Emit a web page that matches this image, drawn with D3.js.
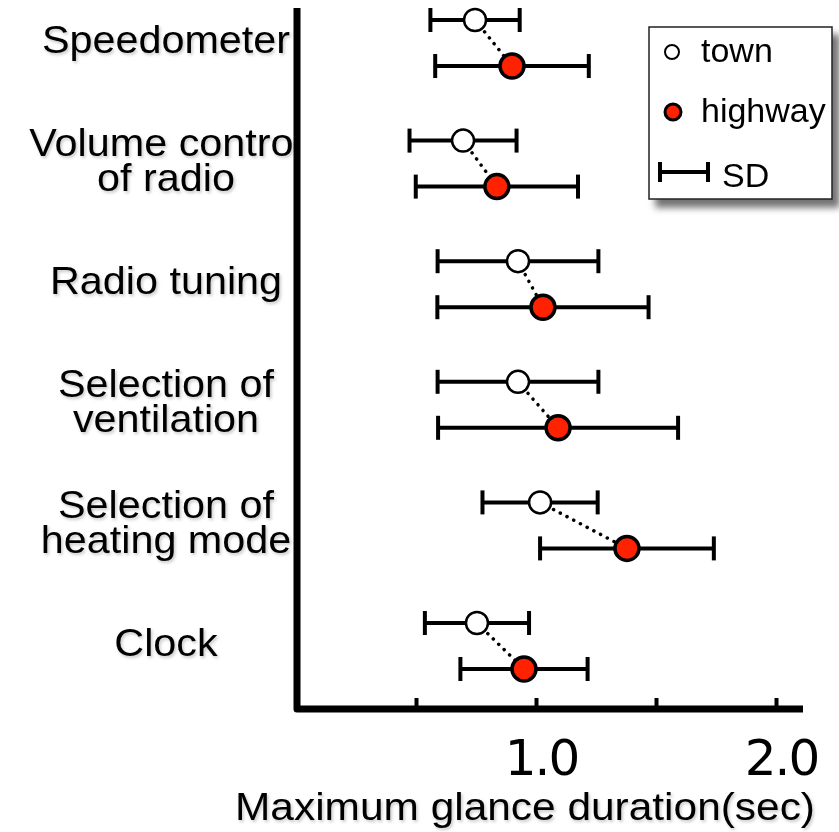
<!DOCTYPE html>
<html>
<head>
<meta charset="utf-8">
<script src="https://cdn.jsdelivr.net/npm/d3@7"></script>
<style>
  html, body { margin: 0; padding: 0; background: #fff; }
  svg { display: block; }
  text { font-family: "Liberation Sans", Arial, Helvetica, sans-serif; fill: #000; }
</style>
</head>
<body>
<svg id="chart" width="839" height="832"></svg>
<script>
"use strict";

// --- DATA ---
const categories = [
    ["Speedometer"],
    ["Volume control", "of radio"],
    ["Radio tuning"],
    ["Selection of", "ventilation"],
    ["Selection of", "heating mode"],
    ["Clock"]
];
const townMean    = [0.746, 0.696, 0.925, 0.925, 1.017, 0.754];
const townSD      = [0.186, 0.223, 0.335, 0.335, 0.240, 0.217];
const highwayMean = [0.900, 0.837, 1.029, 1.092, 1.379, 0.950];
const highwaySD   = [0.320, 0.338, 0.440, 0.500, 0.362, 0.265];
const tickValues  = [0.5, 1.0, 1.5, 2.0];
const legendItems = ["town", "highway", "SD"];

const RED = "#ff2200";
const L = { axisX: 297, axisTop: 8, axisY: 709, axisRight: 803, offset: 23, cap: 12 };

const svg = d3.select("#chart");
const defs = svg.append("defs");

// soft text shadow like the original
defs.append("filter").attr("id", "txtShadow").attr("x", "-10%").attr("y", "-30%").attr("width", "130%").attr("height", "160%")
    .append("feDropShadow").attr("dx", 1.5).attr("dy", 2).attr("stdDeviation", 1.5)
    .attr("flood-color", "#000").attr("flood-opacity", 0.22);
defs.append("filter").attr("id", "boxShadow").attr("x", "-20%").attr("y", "-20%").attr("width", "150%").attr("height", "150%")
    .append("feDropShadow").attr("dx", 7).attr("dy", 8).attr("stdDeviation", 3.5)
    .attr("flood-color", "#000").attr("flood-opacity", 0.55);
defs.append("clipPath").attr("id", "labelClip")
    .append("rect").attr("x", 0).attr("y", 0).attr("width", 294).attr("height", 832);

// --- SCALES ---
const x = d3.scaleLinear().domain([0, 2]).range([296, 776]);
const y = d3.scalePoint().domain(d3.range(categories.length)).range([43, 646]);

const rows = categories.map((c, i) => ({
    i, lines: c,
    town: { m: townMean[i], sd: townSD[i] },
    highway: { m: highwayMean[i], sd: highwaySD[i] }
}));

// --- CATEGORY LABELS ---
const lineH = 35;
const labels = svg.append("g").attr("clip-path", "url(#labelClip)")
    .append("g").attr("filter", "url(#txtShadow)");
rows.forEach(r => {
    const first = y(r.i) - (r.lines.length - 1) * lineH / 2 + 10;
    const t = labels.append("text")
        .attr("transform", `translate(166,${first}) scale(1.06,1)`)
        .attr("text-anchor", "middle")
        .style("font-size", "39px");
    r.lines.forEach((ln, k) => {
        t.append("tspan").attr("x", 0).attr("y", k * lineH).text(ln);
    });
});

// --- AXES ---
const xAxis = d3.axisBottom(x)
    .tickValues(tickValues)
    .tickSizeInner(-11).tickSizeOuter(0).tickPadding(30)
    .tickFormat(d => Number.isInteger(d) ? d.toFixed(1) : "");
const ax = svg.append("g").attr("transform", `translate(0,${L.axisY})`).call(xAxis);
ax.select(".domain").remove();
ax.selectAll(".tick line").attr("stroke", "#000").attr("stroke-width", 4);
ax.selectAll(".tick text")
    .attr("dx", 5)
    .style("font-family", "'DejaVu Sans', Verdana, sans-serif")
    .style("font-size", "50px").style("letter-spacing", "-2px")
    .attr("fill", "#000");

svg.append("path")
    .attr("d", `M${L.axisX},${L.axisTop}V${L.axisY}H${L.axisRight}`)
    .attr("fill", "none").attr("stroke", "#000").attr("stroke-width", 7)
    .attr("stroke-linejoin", "round");

svg.append("text")
    .attr("x", 525).attr("y", 820).attr("text-anchor", "middle")
    .attr("textLength", 580).attr("lengthAdjust", "spacingAndGlyphs")
    .attr("filter", "url(#txtShadow)")
    .style("font-size", "38px")
    .text("Maximum glance duration(sec)");

// --- MARKS ---
const plot = svg.append("g");

// dotted connectors
plot.selectAll(".conn").data(rows).enter().append("line")
    .attr("x1", d => x(d.town.m)).attr("y1", d => y(d.i) - L.offset)
    .attr("x2", d => x(d.highway.m)).attr("y2", d => y(d.i) + L.offset)
    .attr("stroke", "#000").attr("stroke-width", 3.5)
    .attr("stroke-linecap", "round").attr("stroke-dasharray", "0.1 7.5");

const series = [
    { key: "town", dy: -L.offset, fill: "#fff", r: 11, sw: 2.5 },
    { key: "highway", dy: L.offset, fill: RED, r: 12, sw: 3.5 }
];

series.forEach(s => {
    const eb = plot.selectAll(`.eb-${s.key}`).data(rows).enter().append("g")
        .attr("transform", d => `translate(0,${y(d.i) + s.dy})`);
    eb.append("line")
        .attr("x1", d => x(d[s.key].m - d[s.key].sd)).attr("x2", d => x(d[s.key].m + d[s.key].sd))
        .attr("stroke", "#000").attr("stroke-width", 4);
    eb.append("line")
        .attr("x1", d => x(d[s.key].m - d[s.key].sd)).attr("x2", d => x(d[s.key].m - d[s.key].sd))
        .attr("y1", -L.cap).attr("y2", L.cap)
        .attr("stroke", "#000").attr("stroke-width", 4);
    eb.append("line")
        .attr("x1", d => x(d[s.key].m + d[s.key].sd)).attr("x2", d => x(d[s.key].m + d[s.key].sd))
        .attr("y1", -L.cap).attr("y2", L.cap)
        .attr("stroke", "#000").attr("stroke-width", 4);
});

series.forEach(s => {
    plot.selectAll(`.pt-${s.key}`).data(rows).enter().append("circle")
        .attr("cx", d => x(d[s.key].m)).attr("cy", d => y(d.i) + s.dy)
        .attr("r", s.r).attr("fill", s.fill)
        .attr("stroke", "#000").attr("stroke-width", s.sw);
});

// --- LEGEND ---
const lg = svg.append("g").attr("transform", "translate(649,27)");
lg.append("rect").attr("width", 183).attr("height", 172)
    .attr("fill", "#fff").attr("stroke", "#222").attr("stroke-width", 1.5)
    .attr("filter", "url(#boxShadow)");

lg.append("circle").attr("cx", 23).attr("cy", 25).attr("r", 7)
    .attr("fill", "#fff").attr("stroke", "#000").attr("stroke-width", 2);
lg.append("circle").attr("cx", 24).attr("cy", 85).attr("r", 8)
    .attr("fill", RED).attr("stroke", "#000").attr("stroke-width", 3);
lg.append("path").attr("d", "M11,135V155M11,145H59M59,135V155")
    .attr("fill", "none").attr("stroke", "#000").attr("stroke-width", 4);

lg.selectAll(".lgt").data(legendItems).enter().append("text")
    .attr("x", (d, i) => i === 2 ? 73 : 52)
    .attr("y", (d, i) => [35, 95, 160][i])
    .style("font-size", "34px")
    .text(d => d);
</script>
</body>
</html>
